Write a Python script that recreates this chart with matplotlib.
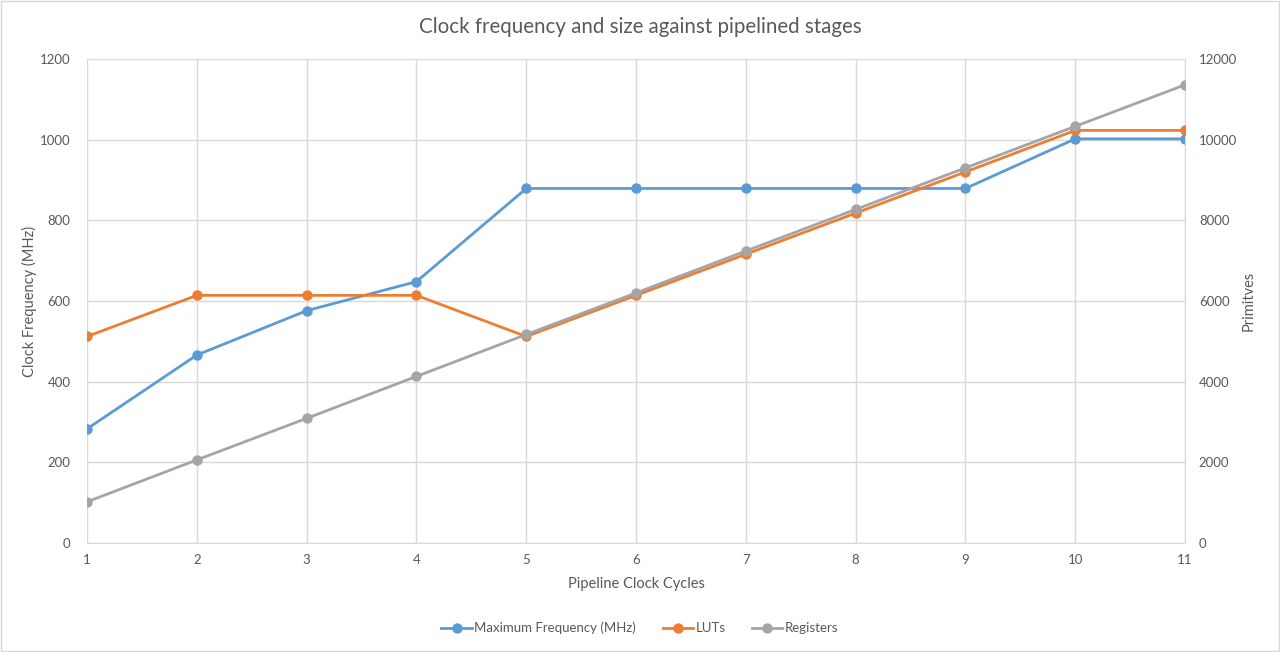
import matplotlib
matplotlib.use("Agg")
import matplotlib.pyplot as plt
from matplotlib.patches import Rectangle

plt.rcParams["font.family"] = ["Lato", "DejaVu Sans"]

# Data
cycles = [1, 2, 3, 4, 5, 6, 7, 8, 9, 10, 11]
max_freq = [283, 466, 576, 648, 879, 879, 879, 879, 879, 1002, 1002]
luts = [5120, 6140, 6140, 6140, 5120, 6140, 7160, 8180, 9200, 10230, 10230]
registers = [1020, 2060, 3090, 4130, 5170, 6200, 7240, 8270, 9300, 10330, 11360]

BLUE = "#5B9BD5"
ORANGE = "#ED7D31"
GRAY = "#A5A5A5"
TEXT = "#595959"
GRID = "#D9D9D9"

fig = plt.figure(figsize=(12.8, 6.52), dpi=100)
ax = fig.add_axes([0.068, 0.1672, 0.8578, 0.7423])
ax2 = ax.twinx()

line_kw = dict(linewidth=2, marker="o", markersize=6.5)
l1, = ax.plot(cycles, max_freq, color=BLUE, label="Maximum Frequency (MHz)", zorder=3, **line_kw)
l2, = ax2.plot(cycles, luts, color=ORANGE, label="LUTs", zorder=3, **line_kw)
l3, = ax2.plot(cycles, registers, color=GRAY, label="Registers", zorder=4, **line_kw)

ax.set_xlim(1, 11)
ax.set_ylim(0, 1200)
ax2.set_ylim(0, 12000)
ax.set_xticks(cycles)
ax.set_yticks(range(0, 1201, 200))
ax2.set_yticks(range(0, 12001, 2000))

ax.grid(True, color=GRID, linewidth=1)
ax.set_axisbelow(True)

for a in (ax, ax2):
    for s in a.spines.values():
        s.set_visible(False)
    a.tick_params(length=0, colors=TEXT, labelsize=9.5)
ax.spines["bottom"].set_visible(True)
ax.spines["bottom"].set_color(GRID)
ax2.spines["right"].set_visible(True)
ax2.spines["right"].set_color(GRID)
ax.tick_params(axis="x", pad=8)
ax.tick_params(axis="y", pad=12)
ax2.tick_params(axis="y", pad=10)

ax.set_xlabel("Pipeline Clock Cycles", color=TEXT, fontsize=10.5, labelpad=8)
ax.set_ylabel("Clock Frequency (MHz)", color=TEXT, fontsize=10.5, labelpad=2)
ax2.set_ylabel("Primitves", color=TEXT, fontsize=10.5, labelpad=3)

fig.text(0.5, 0.958, "Clock frequency and size against pipelined stages",
         ha="center", va="center", color=TEXT, fontsize=14.8)

fig.legend(handles=[l1, l2, l3], loc="center", bbox_to_anchor=(0.5, 0.037),
           ncol=3, frameon=False, fontsize=9.5, labelcolor=TEXT,
           handlelength=2.3, columnspacing=2.0, handletextpad=0.2)

fig.patches.append(Rectangle((0.0008, 0.0012), 0.9984, 0.9976, transform=fig.transFigure,
                             fill=False, edgecolor=GRID, linewidth=1))

fig.savefig("out.png", dpi=100)
